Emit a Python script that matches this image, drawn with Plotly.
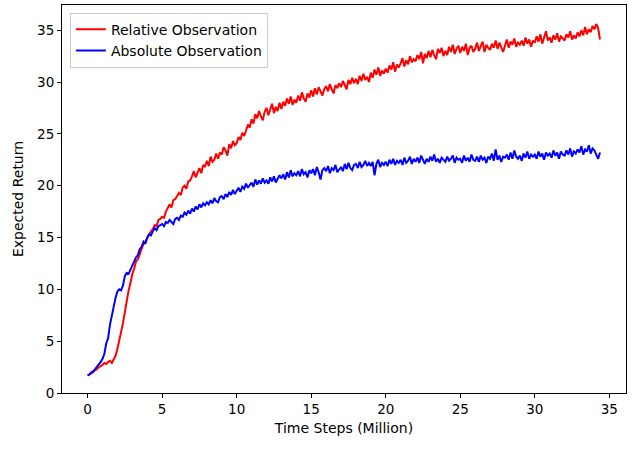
import plotly.graph_objects as go

# returns logged every 0.125M time steps, starting at step 0
log_start = 0.0
log_every = 0.125

relative_return = [
    1.7, 1.8, 1.9, 2.0, 2.2, 2.3, 2.5, 2.6,
    2.7, 2.9, 2.8, 3.0, 3.1, 2.9, 3.2, 3.6,
    4.3, 5.0, 5.9, 6.8, 7.9, 8.6, 9.9, 10.6,
    11.5, 12.0, 12.7, 12.9, 13.4, 13.8, 14.4, 14.6,
    15.0, 15.3, 15.6, 15.8, 16.2, 16.1, 16.7, 16.8,
    17.0, 16.9, 17.5, 17.8, 18.2, 17.9, 18.6, 18.7,
    19.0, 19.3, 19.1, 19.8, 20.0, 19.7, 20.4, 20.5,
    20.9, 21.4, 20.8, 21.3, 21.7, 21.2, 22.0, 21.8,
    22.4, 21.9, 22.8, 22.3, 22.5, 23.1, 22.6, 23.2,
    23.0, 23.7, 23.4, 22.9, 24.0, 23.6, 24.3, 23.9,
    24.1, 24.7, 24.4, 25.1, 24.8, 25.3, 25.9, 25.6,
    26.4, 26.0, 26.9, 26.5, 27.2, 26.7, 26.3, 27.1,
    27.5, 26.8, 27.3, 27.9, 27.0, 27.6, 27.2, 28.0,
    27.4, 28.1, 27.7, 28.4, 27.9, 28.6, 27.8, 28.3,
    28.0, 28.7, 28.2, 29.0, 28.4, 28.1, 28.9, 28.5,
    29.2, 28.6, 29.4, 28.8, 29.5, 29.0, 28.7, 29.3,
    29.6, 29.1, 29.8, 29.3, 28.9, 29.7, 29.4, 29.9,
    29.5, 30.1, 29.7, 29.3, 30.2, 29.8, 30.4, 29.9,
    30.3, 29.8, 30.6, 30.1, 30.8, 30.2, 30.5, 30.0,
    30.9, 30.4, 31.2, 30.7, 31.4, 30.6, 31.1, 30.8,
    31.3, 30.9, 31.6, 31.2, 31.9, 31.0, 31.7, 31.4,
    31.8, 32.3, 31.5, 32.1, 31.7, 32.5, 31.9, 32.2,
    32.0, 32.6, 32.2, 32.9, 31.8, 32.7, 32.3, 33.0,
    32.4, 33.1, 32.6, 32.2, 33.2, 32.8, 33.3, 32.5,
    33.0, 32.6, 33.4, 32.9, 33.6, 32.7, 33.2, 33.5,
    32.8, 33.4, 33.0, 33.7, 32.6, 33.3, 33.5, 32.9,
    33.2, 33.8, 33.0, 33.5, 33.9, 32.9, 33.6, 33.3,
    33.1, 33.7, 33.3, 34.0, 33.2, 33.8, 33.4, 32.9,
    33.5, 34.1, 33.3, 33.9, 33.6, 34.2, 33.4, 33.8,
    33.6, 34.0, 33.5, 34.3, 33.7, 34.1, 33.4, 34.0,
    33.8, 34.4, 33.9, 34.6, 33.7, 34.2, 34.9, 34.0,
    34.3, 33.8, 34.5, 34.1, 34.7, 33.9, 34.4, 34.2,
    34.0, 34.6, 34.3, 34.9, 34.1, 34.5, 34.2, 34.8,
    34.4, 35.0, 34.5, 35.3, 34.6, 35.1, 34.8, 35.4,
    35.1, 35.6, 35.2, 34.1,
]

absolute_return = [
    1.7, 1.8, 2.0, 2.1, 2.3, 2.5, 2.7, 3.0,
    3.3, 3.8, 4.8, 5.3, 6.6, 7.6, 8.4, 9.2,
    9.8, 10.0, 9.9, 10.4, 11.3, 11.6, 11.5, 11.9,
    12.3, 12.6, 13.1, 13.3, 13.9, 14.1, 14.6, 14.4,
    15.0, 15.3, 15.2, 15.6, 15.9, 15.7, 16.1, 16.2,
    16.3, 16.1, 16.5, 16.4, 16.7, 16.5, 16.3, 16.8,
    16.9, 16.7, 17.1, 17.0, 17.4, 17.2, 17.6, 17.3,
    17.8, 17.5, 18.0, 17.7, 18.2, 17.9, 18.3, 18.1,
    18.4, 18.2, 18.6, 18.3, 18.8, 18.5, 18.4, 18.9,
    19.0, 18.7, 19.2, 18.9, 19.4, 19.1, 19.6, 19.2,
    19.5, 19.8, 19.4, 19.9, 19.7, 20.2, 19.8, 20.0,
    20.3, 19.9, 20.6, 20.1, 20.5, 20.2, 20.7, 20.3,
    20.5, 20.2, 20.8, 20.4, 20.9, 20.3, 20.7, 21.0,
    20.7, 21.1, 20.6, 21.3, 20.8, 21.5, 20.9, 21.2,
    21.0, 21.4, 20.9, 21.6, 21.1, 21.3, 20.8, 21.5,
    21.2, 21.6, 21.0, 21.8, 21.3, 20.6, 21.5, 21.7,
    21.4, 21.9, 21.2, 21.7, 21.5, 22.0, 21.3, 21.6,
    21.8, 21.4, 22.1, 21.6, 22.2, 21.7, 21.5, 22.0,
    22.1, 21.7, 22.3, 21.8, 22.0, 22.4, 21.9, 22.2,
    21.9, 22.3, 21.0, 22.1, 22.5, 21.8, 22.2, 22.0,
    22.3, 21.9, 22.5, 22.1, 22.6, 22.0, 22.4, 22.2,
    22.5, 22.0, 22.7, 22.2, 22.4, 22.8, 22.1, 22.6,
    22.3, 22.7, 22.2, 22.9, 22.4, 22.1, 22.6, 22.3,
    22.8, 22.4, 23.0, 22.3, 22.6, 22.2, 22.7, 22.5,
    22.3, 22.8, 22.4, 22.6, 22.9, 22.2, 22.7, 22.5,
    22.6, 22.2, 22.9, 22.4, 22.7, 22.3, 23.0, 22.5,
    22.4, 22.8, 22.3, 22.9, 22.5, 22.7, 22.2, 22.8,
    22.6, 23.1, 22.4, 23.5, 22.5, 22.9, 22.3, 22.8,
    22.7, 23.0, 22.5, 23.2, 22.6, 23.4, 22.8, 22.6,
    22.9, 22.4, 23.1, 22.7, 23.3, 22.6, 23.0, 22.8,
    23.0, 22.6, 23.3, 22.8, 23.1, 22.5, 23.2, 22.9,
    23.1, 22.7, 23.4, 22.9, 23.2, 22.6, 23.3, 23.0,
    22.9, 23.4, 23.0, 23.6, 22.8, 23.3, 23.1, 23.5,
    23.2, 23.8, 23.0, 23.5, 23.3, 23.9, 23.1, 23.6,
    23.4, 23.0, 22.6, 23.2,
]

tick_vals = [0, 5, 10, 15, 20, 25, 30, 35]

fig = go.Figure()
fig.add_trace(go.Scatter(x0=log_start, dx=log_every, y=relative_return, mode="lines",
                         name="Relative Observation",
                         line=dict(color="#ff0000", width=2)))
fig.add_trace(go.Scatter(x0=log_start, dx=log_every, y=absolute_return, mode="lines",
                         name="Absolute Observation",
                         line=dict(color="#0000ff", width=2)))

axis_style = dict(showline=True, linecolor="black", linewidth=1, mirror=True,
                  ticks="outside", ticklen=4, tickcolor="black", showgrid=False,
                  zeroline=False, tickvals=tick_vals, automargin=False,
                  tickfont=dict(size=13.5, color="black"))

fig.update_xaxes(range=[-1.72, 36.12], title=dict(text="Time Steps (Million)",
                 font=dict(size=14, color="black"), standoff=6), **axis_style)
fig.update_yaxes(range=[0, 37.43], title=dict(text="Expected Return",
                 font=dict(size=14, color="black"), standoff=10), **axis_style)

fig.update_layout(
    width=640, height=451,
    margin=dict(l=62, r=14, t=5, b=58),
    plot_bgcolor="white", paper_bgcolor="white",
    font=dict(family="DejaVu Sans", color="black"),
    showlegend=True,
    legend=dict(x=0.014, y=0.98, xanchor="left", yanchor="top",
                bgcolor="white", bordercolor="#cccccc", borderwidth=1,
                font=dict(size=14), tracegroupgap=0, itemwidth=30),
)

# drop the browser's default page margin so the figure sits at the top-left corner
fig.write_html("out.html", config={"displayModeBar": False},
               post_script="document.body.style.margin = '0';")
